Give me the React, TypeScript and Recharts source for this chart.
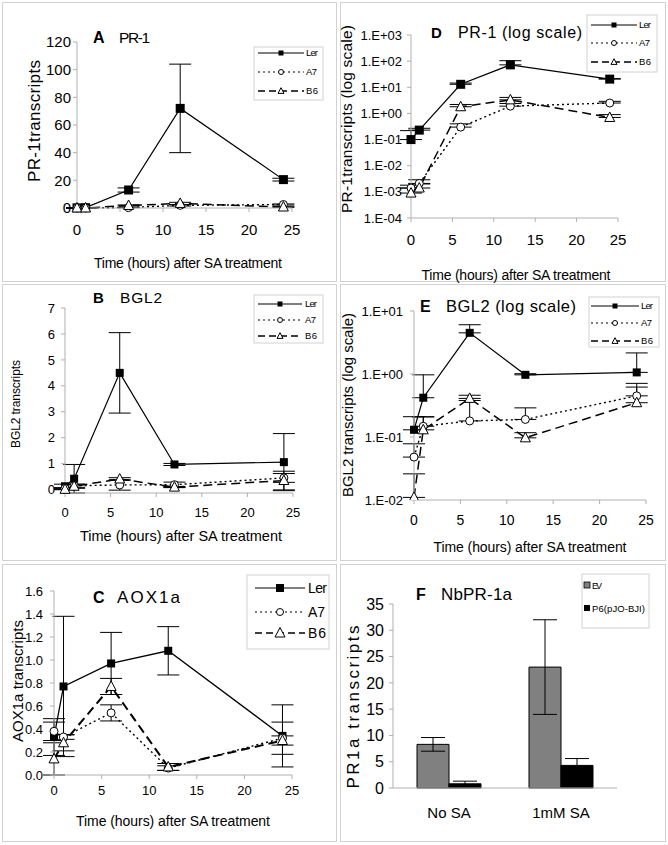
import React from 'react';
import { LineChart, Line, BarChart, Bar, XAxis, YAxis, ErrorBar } from 'recharts';

document.body.style.margin = '0';

const hours = [0, 1, 6, 12, 24];
const timeTicks = [0, 5, 10, 15, 20, 25];

// PR-1 (panels A and D)
const pr1Ler = [0.1, 0.23, 13, 72, 20.5];
const pr1LerErr = [0.12, 0.04, 1.5, 32, 1];
const pr1A7 = [0.0014, 0.0021, 0.3, 1.9, 2.5];
const pr1A7Err = [0.0004, 0.0008, 0.1, 0.5, 0.4];
const pr1B6 = [0.0009, 0.0014, 1.8, 3.3, 0.7];
const pr1B6Err = [0.0005, 0.0006, 0.4, 0.8, 0.2];
const pr1Ticks = [0, 20, 40, 60, 80, 100, 120];
const pr1LogTicks = [1e-4, 1e-3, 1e-2, 1e-1, 1, 10, 100, 1000];

// BGL2 (panels B and E)
const bglLer = [0.13, 0.42, 4.5, 0.97, 1.06];
const bglLerErr = [0.08, 0.55, 1.55, 0.04, 1.1];
const bglA7 = [0.048, 0.148, 0.18, 0.19, 0.45];
const bglA7Err = [0.03, 0.06, 0.2, 0.1, 0.17];
const bglB6 = [0.011, 0.13, 0.41, 0.097, 0.35];
const bglB6Err = [0.015, 0.08, 0.05, 0.02, 0.36];
const bglTicks = [0, 1, 2, 3, 4, 5, 6, 7];
const bglLogTicks = [0.01, 0.1, 1, 10];

// AOX1a (panel C)
const aoxLer = [0.33, 0.77, 0.97, 1.08, 0.34];
const aoxLerErr = [0.16, 0.61, 0.27, 0.21, 0.27];
const aoxA7 = [0.38, 0.33, 0.54, 0.06, 0.32];
const aoxA7Err = [0.08, 0.02, 0.07, 0.02, 0.14];
const aoxB6 = [0.14, 0.28, 0.77, 0.07, 0.3];
const aoxB6Err = [0.14, 0.07, 0.07, 0.03, 0.04];
const aoxTicks = [0, 0.2, 0.4, 0.6, 0.8, 1.0, 1.2, 1.4, 1.6];

// NbPR-1a (panel F)
const treatments = ['No SA', '1mM SA'];
const evValues = [8.3, 23];
const evErr = [1.3, 9];
const p6Values = [0.8, 4.3];
const p6Err = [0.5, 1.3];
const nbTicks = [0, 5, 10, 15, 20, 25, 30, 35];

const sans = "'Liberation Sans', Arial, sans-serif";
const axisGray = '#b0b0b0';
const frame = '#d2d2d2';

const logFmt = (v: number) => {
  const e = Math.round(Math.log10(v));
  return `1.E${e >= 0 ? '+' : '-'}${String(Math.abs(e)).padStart(2, '0')}`;
};

const squareDot = (s: number) => (p: any) =>
  <rect key={`s${p.index}`} x={p.cx - s / 2} y={p.cy - s / 2} width={s} height={s} fill="#000" />;
const circleDot = (r: number) => (p: any) =>
  <circle key={`c${p.index}`} cx={p.cx} cy={p.cy} r={r} fill="#fff" stroke="#000" strokeWidth={1} />;
const triPath = (cx: number, cy: number, s: number) =>
  `M${cx},${cy - s * 0.55} L${cx + s / 2},${cy + s * 0.4} L${cx - s / 2},${cy + s * 0.4} Z`;
const triDot = (s: number) => (p: any) =>
  <path key={`t${p.index}`} d={triPath(p.cx, p.cy, s)} fill="#fff" stroke="#000" strokeWidth={1} />;

type Panel = {
  box: number[]; // left, top, w, h (page px)
  plot: number[]; // left, top, right, bottom (page px)
  ler: number[]; lerErr: number[];
  a7: number[]; a7Err: number[];
  b6: number[]; b6Err: number[];
  log?: boolean;
  domain: number[];
  ticks: number[];
  fmt?: (v: number) => string;
  fs: number; yfs: number;
  xGap: number; yGap: number;
  sq: number; cr: number; tri: number;
  lw: number; dashW: number;
};

const panels: Panel[] = [
  {
    box: [2, 2, 335, 280], plot: [77, 42, 292, 208],
    ler: pr1Ler, lerErr: pr1LerErr, a7: pr1A7, a7Err: pr1A7Err, b6: pr1B6, b6Err: pr1B6Err,
    domain: [0, 120], ticks: pr1Ticks, fs: 15, yfs: 15, xGap: 22, yGap: 6,
    sq: 9, cr: 4, tri: 10, lw: 1.2, dashW: 1.5,
  },
  {
    box: [340, 2, 326, 280], plot: [411, 35, 618, 218],
    ler: pr1Ler, lerErr: pr1LerErr, a7: pr1A7, a7Err: pr1A7Err, b6: pr1B6, b6Err: pr1B6Err,
    log: true, domain: [1e-4, 1e3], ticks: pr1LogTicks, fmt: logFmt, fs: 15, yfs: 13, xGap: 22, yGap: 9,
    sq: 9, cr: 4, tri: 10, lw: 1.2, dashW: 1.5,
  },
  {
    box: [2, 284, 335, 277], plot: [65, 308, 293, 493],
    ler: bglLer, lerErr: bglLerErr, a7: bglA7, a7Err: bglA7Err, b6: bglB6, b6Err: bglB6Err,
    domain: [0, 7], ticks: bglTicks, fs: 13, yfs: 13, xGap: 19, yGap: 10,
    sq: 8, cr: 4, tri: 10, lw: 1.2, dashW: 1.5,
  },
  {
    box: [340, 284, 326, 277], plot: [414, 311, 646, 500],
    ler: bglLer, lerErr: bglLerErr, a7: bglA7, a7Err: bglA7Err, b6: bglB6, b6Err: bglB6Err,
    log: true, domain: [0.01, 10], ticks: bglLogTicks, fmt: logFmt, fs: 14, yfs: 13, xGap: 20, yGap: 11,
    sq: 8, cr: 4, tri: 10, lw: 1.2, dashW: 1.5,
  },
  {
    box: [2, 564, 335, 278], plot: [54, 591, 292, 775],
    ler: aoxLer, lerErr: aoxLerErr, a7: aoxA7, a7Err: aoxA7Err, b6: aoxB6, b6Err: aoxB6Err,
    domain: [0, 1.6], ticks: aoxTicks, fmt: (v: number) => v.toFixed(1), fs: 13, yfs: 13, xGap: 15, yGap: 11,
    sq: 8, cr: 4, tri: 10, lw: 1.3, dashW: 2,
  },
];

const frameStyle = (box: number[]): React.CSSProperties => ({
  position: 'absolute', left: box[0], top: box[1], width: box[2], height: box[3],
  boxShadow: `inset 0 0 0 1px ${frame}`, background: '#fff',
});

function TimePanel({ p }: { p: Panel }) {
  const data = hours.map((t, i) => ({
    t,
    ler: p.ler[i], lerE: p.log ? [0, p.lerErr[i]] : p.lerErr[i],
    a7: p.a7[i], a7E: p.log ? [0, p.a7Err[i]] : p.a7Err[i],
    b6: p.b6[i], b6E: p.log ? [0, p.b6Err[i]] : p.b6Err[i],
  }));
  const yw = 40, xh = 40, ts = 4;
  const margin = {
    top: p.plot[1] - p.box[1],
    right: p.box[0] + p.box[2] - p.plot[2],
    left: p.plot[0] - p.box[0] - yw,
    bottom: p.box[1] + p.box[3] - p.plot[3] - xh,
  };
  const xtick = { fontSize: p.fs, fill: '#000', fontFamily: sans };
  const ytick = { fontSize: p.yfs, fill: '#000', fontFamily: sans };
  return (
    <div style={frameStyle(p.box)}>
      <LineChart width={p.box[2]} height={p.box[3]} data={data} margin={margin}>
        <XAxis dataKey="t" type="number" domain={[0, 25]} ticks={timeTicks} interval={0}
          height={xh} tick={xtick} tickSize={ts} tickMargin={p.xGap - ts - 0.35 * p.fs}
          stroke={axisGray} />
        <YAxis type="number" domain={p.domain} ticks={p.ticks} interval={0} width={yw}
          scale={p.log ? 'log' : 'auto'} allowDataOverflow={!!p.log}
          tickFormatter={p.fmt} tick={ytick} tickSize={ts} tickMargin={p.yGap - ts}
          stroke={axisGray} />
        <Line dataKey="ler" stroke="#000" strokeWidth={p.lw} dot={squareDot(p.sq)}
          activeDot={false} isAnimationActive={false}>
          <ErrorBar dataKey="lerE" direction="y" width={11} stroke="#000" strokeWidth={1} />
        </Line>
        <Line dataKey="a7" stroke="#000" strokeWidth={1.4} strokeDasharray="2 3"
          dot={circleDot(p.cr)} activeDot={false} isAnimationActive={false}>
          <ErrorBar dataKey="a7E" direction="y" width={11} stroke="#000" strokeWidth={1} />
        </Line>
        <Line dataKey="b6" stroke="#000" strokeWidth={p.dashW} strokeDasharray="9 5"
          dot={triDot(p.tri)} activeDot={false} isAnimationActive={false}>
          <ErrorBar dataKey="b6E" direction="y" width={11} stroke="#000" strokeWidth={1} />
        </Line>
      </LineChart>
    </div>
  );
}

function BarPanel() {
  const box = [340, 564, 326, 278];
  const plot = [393, 604, 617, 788];
  const data = treatments.map((cond, i) => ({
    cond, ev: evValues[i], evE: evErr[i], p6: p6Values[i], p6E: p6Err[i],
  }));
  const yw = 40, xh = 40, ts = 4;
  const margin = {
    top: plot[1] - box[1],
    right: box[0] + box[2] - plot[2],
    left: plot[0] - box[0] - yw,
    bottom: box[1] + box[3] - plot[3] - xh,
  };
  const tick = { fontSize: 15, fill: '#000', fontFamily: sans };
  return (
    <div style={frameStyle(box)}>
      <BarChart width={box[2]} height={box[3]} data={data} margin={margin} barGap={0}>
        <XAxis dataKey="cond" height={xh} tick={tick} tickLine={false} tickMargin={19 - 0.35 * 15}
          stroke={axisGray} />
        <YAxis type="number" domain={[0, 35]} ticks={nbTicks} interval={0} width={yw}
          tick={{ ...tick, fontSize: 16 }} tickSize={ts} tickMargin={5} stroke={axisGray} />
        <Bar dataKey="ev" barSize={32} fill="#808080" stroke="#000" strokeWidth={1} isAnimationActive={false}>
          <ErrorBar dataKey="evE" direction="y" width={12} stroke="#000" strokeWidth={1} />
        </Bar>
        <Bar dataKey="p6" barSize={32} fill="#000" stroke="#000" strokeWidth={1} isAnimationActive={false}>
          <ErrorBar dataKey="p6E" direction="y" width={12} stroke="#000" strokeWidth={1} />
        </Bar>
      </BarChart>
    </div>
  );
}

type TProps = {
  x: number; y: number; len: number; size: number; bold?: boolean;
  anchor?: 'start' | 'middle'; rot?: boolean; children: string;
};
const T = ({ x, y, len, size, bold, anchor = 'start', rot, children }: TProps) => (
  <text x={x} y={y} fontSize={size} fontFamily={sans} fontWeight={bold ? 'bold' : 'normal'}
    textAnchor={anchor} textLength={len} lengthAdjust="spacing"
    dominantBaseline={rot ? 'central' : 'auto'}
    transform={rot ? `rotate(-90 ${x} ${y})` : undefined} fill="#000">
    {children}
  </text>
);

type LegendCfg = {
  box: number[]; rows: number[]; x1: number; x2: number; tx: number;
  size: number; lens: number[]; sq: number; cr: number; tri: number;
};
const seriesNames = ['Ler', 'A7', 'B6'];

function LineLegend({ c }: { c: LegendCfg }) {
  const mid = (c.x1 + c.x2) / 2;
  return (
    <g>
      <rect x={c.box[0]} y={c.box[1]} width={c.box[2]} height={c.box[3]} fill="#fff" stroke={frame} />
      {seriesNames.map((name, i) => {
        const y = c.rows[i];
        const dash = i === 0 ? undefined : i === 1 ? '2 3' : '7 4';
        return (
          <g key={name}>
            <line x1={c.x1} x2={c.x2} y1={y} y2={y} stroke="#000" strokeWidth={i === 2 ? 1.4 : 1.2} strokeDasharray={dash} />
            {i === 0 && <rect x={mid - c.sq / 2} y={y - c.sq / 2} width={c.sq} height={c.sq} fill="#000" />}
            {i === 1 && <circle cx={mid} cy={y} r={c.cr} fill="#fff" stroke="#000" />}
            {i === 2 && <path d={triPath(mid, y, c.tri)} fill="#fff" stroke="#000" />}
            <T x={c.tx} y={y + c.size * 0.36} len={c.lens[i]} size={c.size}>{name}</T>
          </g>
        );
      })}
    </g>
  );
}

const legends: LegendCfg[] = [
  { box: [254, 47, 69, 53], rows: [53, 72, 91], x1: 258, x2: 304, tx: 306, size: 9.5, lens: [12, 11, 12], sq: 5, cr: 2.5, tri: 6 },
  { box: [587, 15, 70, 57], rows: [25, 43, 62], x1: 591, x2: 637, tx: 639, size: 9.5, lens: [12, 11, 12], sq: 5, cr: 2.5, tri: 6 },
  { box: [254, 295, 69, 48], rows: [304, 320, 336], x1: 258, x2: 302, tx: 305, size: 9.5, lens: [12, 11, 12], sq: 5, cr: 2.5, tri: 6 },
  { box: [589, 297, 70, 50], rows: [306, 323, 341], x1: 591, x2: 639, tx: 641, size: 9.5, lens: [12, 11, 12], sq: 5, cr: 2.5, tri: 6 },
  { box: [247, 575, 82, 74], rows: [588, 612, 633], x1: 255, x2: 305, tx: 308, size: 14, lens: [19, 17, 18], sq: 8, cr: 3.5, tri: 10 },
];

function Overlay() {
  const xl = 'Time (hours) after SA treatment';
  return (
    <svg width={668} height={845} style={{ position: 'absolute', left: 0, top: 0, pointerEvents: 'none' }}>
      {/* panel titles */}
      <T x={93} y={43} len={11} size={16} bold>A</T>
      <T x={119} y={43} len={31} size={15.5}>PR-1</T>
      <T x={431} y={38} len={10} size={15} bold>D</T>
      <T x={458} y={38} len={124} size={16}>PR-1 (log scale)</T>
      <T x={93} y={303} len={11} size={15} bold>B</T>
      <T x={120} y={303} len={42} size={15.5}>BGL2</T>
      <T x={420} y={312} len={11} size={16} bold>E</T>
      <T x={446} y={312} len={130} size={16.5}>BGL2 (log scale)</T>
      <T x={93} y={603} len={10} size={16} bold>C</T>
      <T x={117} y={603} len={63} size={17}>AOX1a</T>
      <T x={416} y={600} len={8} size={16} bold>F</T>
      <T x={441} y={600} len={71} size={17}>NbPR-1a</T>

      {/* x axis titles */}
      <T x={188} y={268} len={188} size={14} anchor="middle">{xl}</T>
      <T x={516} y={280} len={189} size={14} anchor="middle">{xl}</T>
      <T x={181} y={541} len={202} size={14.5} anchor="middle">{xl}</T>
      <T x={530} y={552} len={193} size={14} anchor="middle">{xl}</T>
      <T x={173} y={826} len={194} size={14} anchor="middle">{xl}</T>

      {/* y axis titles */}
      <T x={34} y={121} len={122} size={17} anchor="middle" rot>PR-1transcripts</T>
      <T x={346} y={119} len={188} size={15.5} anchor="middle" rot>PR-1transcripts (log scale)</T>
      <T x={16} y={404} len={88} size={12} anchor="middle" rot>BGL2 transcripts</T>
      <T x={347} y={405} len={184} size={15} anchor="middle" rot>BGL2 transcripts (log scale)</T>
      <T x={17} y={681} len={122} size={15} anchor="middle" rot>AOX1a transcripts</T>
      <T x={353} y={707} len={163} size={17} anchor="middle" rot>PR1a transcripts</T>

      {legends.map((c, i) => <LineLegend key={i} c={c} />)}

      {/* bar legend */}
      <rect x={582} y={574} width={67} height={54} fill="#fff" stroke={frame} />
      <rect x={584} y={582} width={6} height={6} fill="#808080" stroke="#000" strokeWidth={0.8} />
      <T x={592} y={589} len={10} size={9}>EV</T>
      <rect x={584} y={605} width={6} height={6} fill="#000" />
      <T x={592} y={612} len={53} size={9.5}>P6(pJO-BJI)</T>
    </svg>
  );
}

export default function App() {
  return (
    <div style={{ position: 'relative', width: 668, height: 845, background: '#fff', overflow: 'hidden' }}>
      {panels.map((p, i) => <TimePanel key={i} p={p} />)}
      <BarPanel />
      <Overlay />
    </div>
  );
}
